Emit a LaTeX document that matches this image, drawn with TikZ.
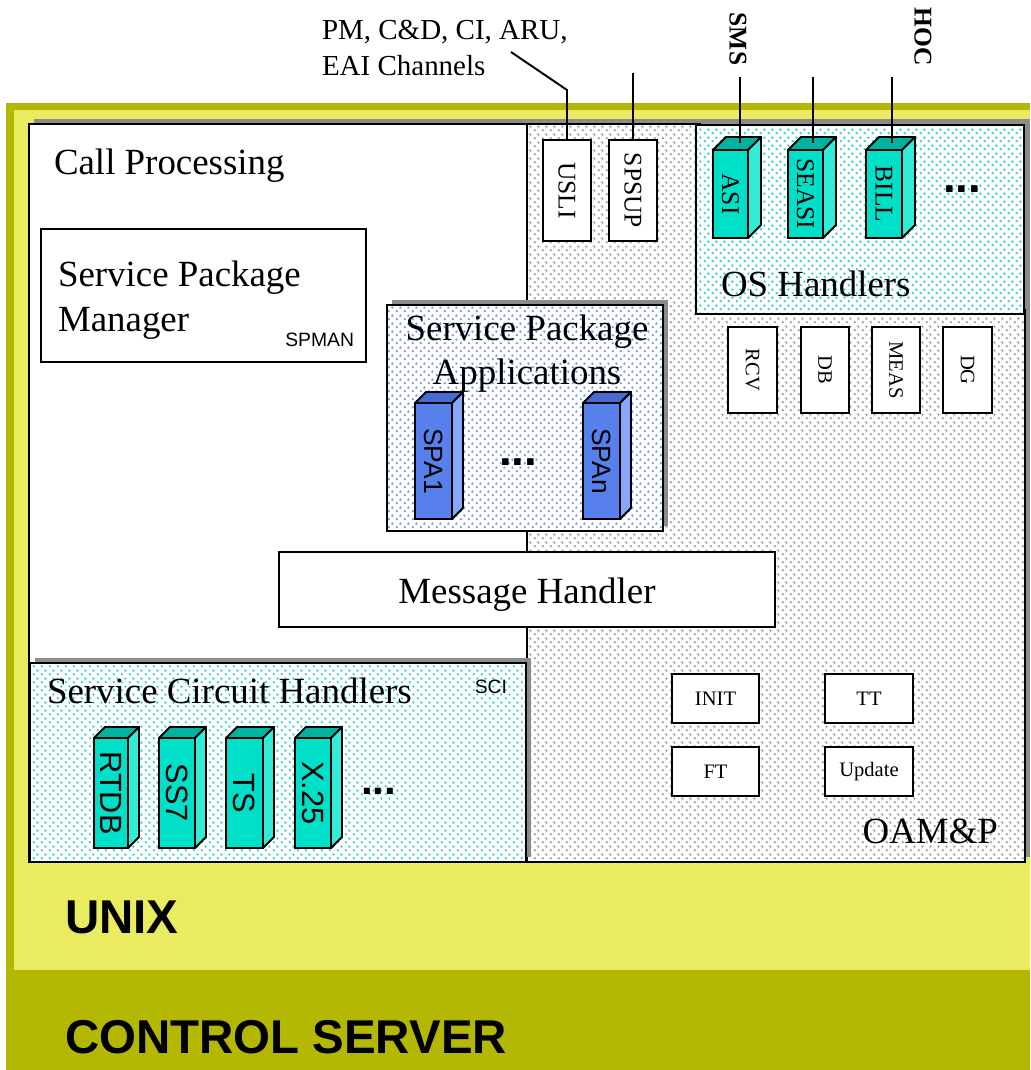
\documentclass[tikz,border=0pt]{standalone}
\usepackage{fontspec}
\setmainfont{Liberation Serif}
\setsansfont{Liberation Sans}
\usetikzlibrary{patterns,shadows}

% staggered dot texture used for the shaded panels
\pgfdeclarepatternformonly{stagdots}{\pgfqpoint{0pt}{0pt}}{\pgfqpoint{4.6pt}{4.6pt}}{\pgfqpoint{4.6pt}{4.6pt}}{%
  \pgfpathcircle{\pgfqpoint{1.15pt}{1.15pt}}{0.8pt}%
  \pgfpathcircle{\pgfqpoint{3.45pt}{3.45pt}}{0.8pt}%
  \pgfusepath{fill}}

\definecolor{serverolive}{RGB}{181,184,2}
\definecolor{unixyellow}{RGB}{233,235,96}
\definecolor{shadowgray}{RGB}{140,140,140}
\definecolor{dotgray}{RGB}{160,160,160}
\definecolor{dotcyan}{RGB}{50,214,202}
\definecolor{dotblue}{RGB}{118,152,240}
\definecolor{tqfront}{RGB}{0,224,200}
\definecolor{tqtop}{RGB}{0,178,160}
\definecolor{tqside}{RGB}{50,236,216}
\definecolor{bufront}{RGB}{88,128,236}
\definecolor{butop}{RGB}{70,108,212}
\definecolor{buside}{RGB}{135,168,250}

\tikzset{
  panel/.style={draw=black, line width=1.5pt},
  dropshade/.style={general shadow={fill=shadowgray, shadow xshift=0.1cm, shadow yshift=0.1cm}},
  graydots/.style={preaction={fill=white}, pattern=stagdots, pattern color=dotgray},
  cyandots/.style={preaction={fill=white}, pattern=stagdots, pattern color=dotcyan},
  bluedots/.style={preaction={fill=white}, pattern=stagdots, pattern color=dotblue},
  smallbox/.style={draw=black, line width=1.3pt, fill=white},
  cubeface/.style={draw=black, line width=1.1pt},
  cubeedge/.style={draw=black, line width=1.1pt, line join=round},
  wire/.style={draw=black, line width=1.1pt},
  bigtxt/.style={font=\fontsize{21}{25}\selectfont, anchor=base west},
  tagtxt/.style={font=\sffamily\fontsize{11}{13}\selectfont, anchor=base west},
  layertxt/.style={font=\sffamily\bfseries\fontsize{27}{32}\selectfont, anchor=base west},
  moretxt/.style={font=\sffamily\bfseries\fontsize{26}{30}\selectfont, anchor=base west},
  feedtxt/.style={font=\bfseries\fontsize{14.5}{17}\selectfont, rotate=-90},
}

% box given by its corners (x1,y1)-(x2,y2)
\newcommand\boxat[7]{%
  \node[#6, minimum width={(#4-#2)*0.02cm}, minimum height={(#5-#3)*0.02cm}]
    (#1) at ({(#2+#4)/2},{(#3+#5)/2}) {#7};}

% 3-D block: name, corners of front face, depth, palette, label, label font
\newcommand\block[9]{%
  \boxat{#1}{#2}{#3}{#4}{#5}{cubeface, fill=#7front}{\rotatebox{-90}{#9#8}}%
  \draw[cubeedge, fill=#7top] (#1.north west) -- ++(#6,-#6) -- ++({#4-#2},0) -- (#1.north east) -- cycle;
  \draw[cubeedge, fill=#7side] (#1.north east) -- ++(#6,-#6) -- ++(0,{#5-#3}) -- (#1.south east) -- cycle;
  \coordinate (#1-top) at ([shift={({#6/2},{-#6/2})}]#1.north);}

\newcommand\serifS{\fontsize{14.5}{17}\selectfont}
\newcommand\serifXS{\fontsize{11.7}{14}\selectfont}
\newcommand\sansS{\sffamily\fontsize{15}{18}\selectfont}
\newcommand\sansM{\sffamily\fontsize{17.5}{21}\selectfont}

\begin{document}
\begin{tikzpicture}[x=0.02cm, y=-0.02cm, every node/.style={inner sep=0pt, outer sep=0pt}]
\useasboundingbox (0,0) rectangle (1030,1070);
\fill[white] (0,0) rectangle (1030,1070);

% hardware and operating system layers
\fill[serverolive] (6,103) rectangle (1030,1070);
\fill[unixyellow] (14,110) rectangle (1030,970);

% main panels
\draw[panel, dropshade, fill=white] (29,124) rectangle (527,862);
\draw[panel, dropshade, graydots] (527,124) rectangle (1025,862);
\draw[panel, dropshade, cyandots] (696,125) rectangle (1024,314);
\draw[panel, dropshade, bluedots] (387,305) rectangle (663,531);
\boxat{mh}{279}{552}{775}{627}{smallbox, line width=1.5pt}{}
\draw[panel, dropshade, cyandots] (30,663) rectangle (526,862);

% panel titles
\node[bigtxt] (cp-title) at (54,175) {Call Processing};
\boxat{spm}{41}{229}{366}{362}{smallbox, line width=1.5pt}{}
\node[bigtxt] (spm-l1) at (58,287) {Service Package};
\node[bigtxt] (spm-l2) at (58,332) {Manager};
\node[tagtxt, anchor=base east] (spm-tag) at (354,347) {SPMAN};
\node[bigtxt, anchor=base] (spa-l1) at (527,341) {Service Package};
\node[bigtxt, anchor=base] (spa-l2) at (527,385) {Applications};
\node[bigtxt, anchor=base] (mh-txt) at (527,603) {Message Handler};
\node[bigtxt] (os-title) at (721,297) {OS Handlers};
\node[bigtxt] (sch-title) at (47,703) {Service Circuit Handlers};
\node[tagtxt, anchor=base east] (sch-tag) at (507,693) {SCI};
\node[bigtxt, anchor=base east] (oam-title) at (998,843) {OAM\&P};
\node[layertxt] (unix-txt) at (65,933) {UNIX};
\node[layertxt] (server-txt) at (65,1053) {CONTROL SERVER};

% OAM&P interfaces
\boxat{usli}{543}{140}{591}{241}{smallbox}{\rotatebox{-90}{\serifS USLI}}
\boxat{spsup}{609}{140}{657}{241}{smallbox}{\rotatebox{-90}{\serifS SPSUP}}
\boxat{rcv}{728}{327}{777}{413}{smallbox}{\rotatebox{-90}{\serifXS RCV}}
\boxat{db}{801}{327}{849}{413}{smallbox}{\rotatebox{-90}{\serifXS DB}}
\boxat{meas}{872}{327}{920}{413}{smallbox}{\rotatebox{-90}{\serifXS MEAS}}
\boxat{dg}{943}{327}{992}{413}{smallbox}{\rotatebox{-90}{\serifXS DG}}
\boxat{init}{672}{674}{759}{723}{smallbox}{\serifXS INIT}
\boxat{tt}{825}{674}{913}{723}{smallbox}{\serifXS TT}
\boxat{ft}{672}{747}{759}{796}{smallbox}{\serifXS FT}
\boxat{upd}{825}{747}{913}{796}{smallbox}{\serifXS Update}

% OS handler blocks
\block{asi}{713}{150}{748}{238}{13}{tq}{ASI}{\serifS}
\block{seasi}{788}{150}{823}{238}{13}{tq}{SEASI}{\serifS}
\block{bill}{866}{150}{902}{238}{13}{tq}{BILL}{\serifS}
\node[moretxt] (os-more) at (943,193) {...};

% service package application blocks
\block{spa1}{415}{403}{452}{519}{11}{bu}{SPA1}{\sansS}
\block{span}{583}{403}{620}{519}{11}{bu}{SPAn}{\sansS}
\node[moretxt] (spa-more) at (499,465) {...};

% service circuit handler blocks
\block{rtdb}{94}{738}{128}{848}{11}{tq}{RTDB}{\sansM}
\block{ss7}{159}{738}{195}{848}{11}{tq}{SS7}{\sansM}
\block{ts}{226}{738}{263}{848}{11}{tq}{TS}{\sansM}
\block{x25}{295}{738}{331}{848}{11}{tq}{X.25}{\sansM}
\node[moretxt, font=\sffamily\bfseries\fontsize{24}{28}\selectfont] (sch-more) at (361,794) {...};

% external feeds
\node[font=\fontsize{16.5}{20}\selectfont, anchor=base west] (chan-l1) at (322,40) {PM, C\&D, CI, ARU,};
\node[font=\fontsize{16.5}{20}\selectfont, anchor=base west] (chan-l2) at (322,76) {EAI Channels};
\node[feedtxt] (sms) at (738,39) {SMS};
\node[feedtxt] (hoc) at (923,37) {HOC};

\coordinate (chanlead) at (511,52);
\coordinate (chanbend) at (567,90);
\coordinate (spsuplead) at (633,73);
\coordinate (smslead) at (740,77);
\coordinate (seasilead) at (813,77);
\coordinate (hoclead) at (892,77);

\draw[wire] (chanlead) -- (chanbend) -- (usli.north);
\draw[wire] (spsuplead) -- (spsup.north);
\draw[wire] (smslead) -- (smslead |- asi-top);
\draw[wire] (seasilead) -- (seasilead |- seasi-top);
\draw[wire] (hoclead) -- (hoclead |- bill-top);
\end{tikzpicture}
\end{document}
